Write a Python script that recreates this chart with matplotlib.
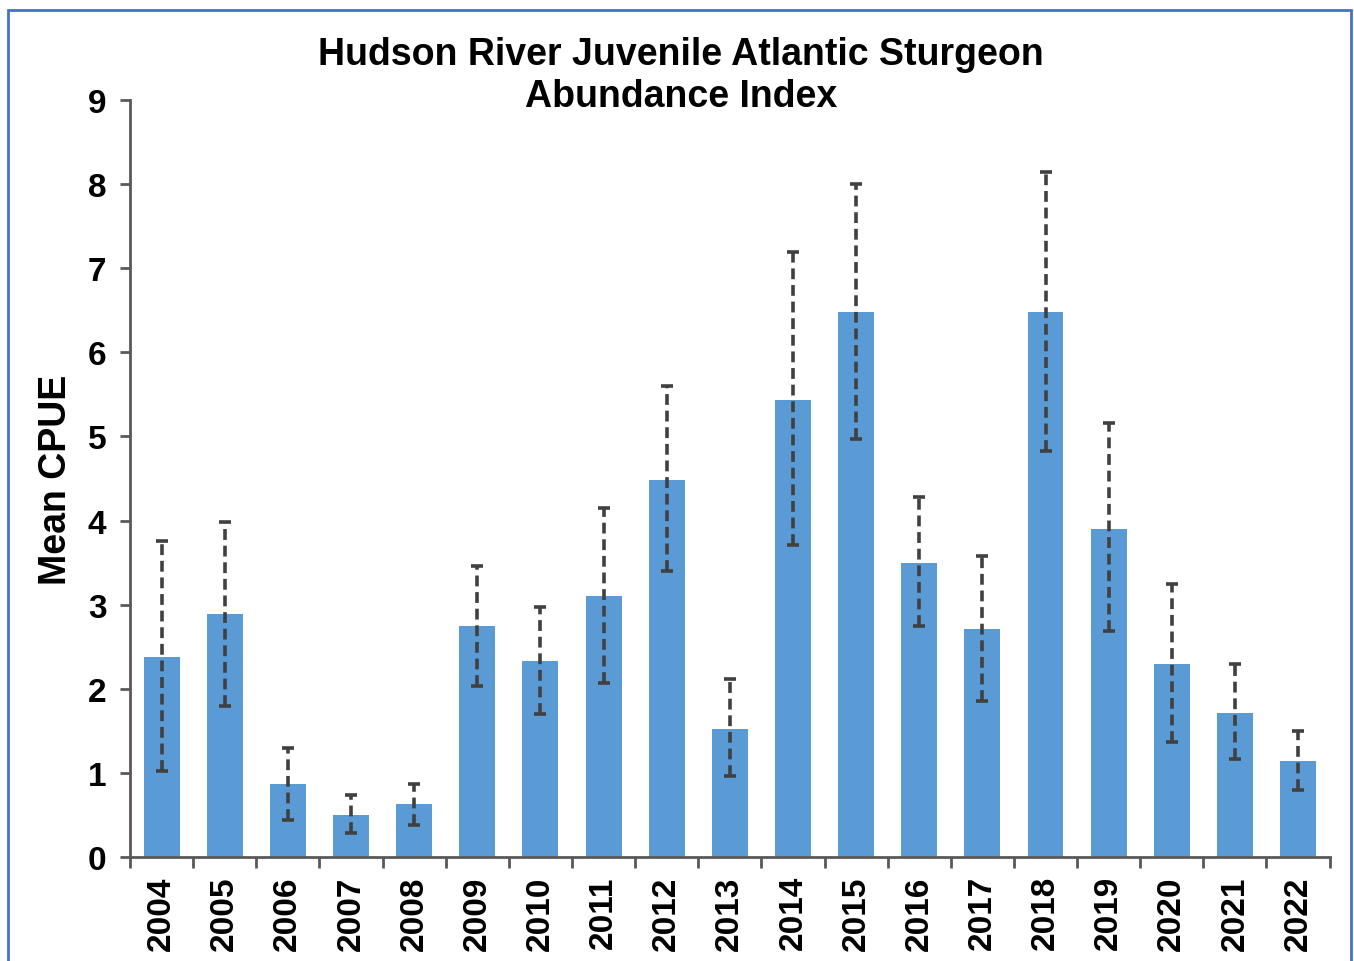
import matplotlib.pyplot as plt
from matplotlib.patches import Rectangle
import numpy as np

# Juvenile Atlantic sturgeon index, Hudson River
years = ["2004", "2005", "2006", "2007", "2008", "2009", "2010", "2011", "2012", "2013",
         "2014", "2015", "2016", "2017", "2018", "2019", "2020", "2021", "2022"]
mean_cpue = [2.38, 2.89, 0.87, 0.50, 0.63, 2.75, 2.33, 3.10, 4.48, 1.52,
             5.43, 6.48, 3.50, 2.71, 6.48, 3.90, 2.30, 1.71, 1.14]
upper = [3.76, 3.98, 1.30, 0.74, 0.87, 3.46, 2.97, 4.15, 5.60, 2.12,
         7.19, 8.00, 4.28, 3.58, 8.15, 5.16, 3.25, 2.29, 1.50]
lower = [1.02, 1.80, 0.44, 0.29, 0.38, 2.03, 1.70, 2.07, 3.40, 0.96,
         3.71, 4.97, 2.75, 1.85, 4.83, 2.69, 1.37, 1.17, 0.80]

plt.rcParams['font.family'] = ['Liberation Sans', 'DejaVu Sans']
plt.rcParams['font.weight'] = 'bold'

fig = plt.figure(figsize=(13.54, 9.62), dpi=100)
ax = fig.add_axes([0.096, 0.108, 0.886, 0.787])

x = np.arange(len(years))
vals = np.array(mean_cpue)
yerr = [vals - np.array(lower), np.array(upper) - vals]

ax.bar(x, vals, width=0.57, color="#5B9BD5", zorder=2)
eb = ax.errorbar(x, vals, yerr=yerr, fmt="none", ecolor="#404040", elinewidth=2.6,
                 capsize=4, capthick=2.6, zorder=3)
for lc in eb[2]:
    lc.set_linestyle((0, (3, 1.6)))

ax.set_xlim(-0.5, len(years) - 0.5)
ax.set_ylim(0, 9)
ax.set_yticks(range(0, 10))
ax.set_xticks(x)
ax.set_xticklabels(years, rotation=90, fontsize=24, fontweight='bold')
ax.set_xticks(np.arange(-0.5, len(years)), minor=True)
ax.tick_params(axis='x', which='major', length=0, pad=13)
ax.tick_params(axis='x', which='minor', length=8, width=2, color="#595959")
ax.tick_params(axis='y', length=7, width=2, color="#595959", labelsize=24, pad=10)
for t in ax.get_yticklabels():
    t.set_fontweight('bold')

for side in ["top", "right"]:
    ax.spines[side].set_visible(False)
for side in ["left", "bottom"]:
    ax.spines[side].set_linewidth(2)
    ax.spines[side].set_color("#595959")

ax.set_ylabel("Mean CPUE", fontsize=27, fontweight='bold', labelpad=10)

fig.text(0.503, 1 - 76 / 962, "Hudson River Juvenile Atlantic Sturgeon\nAbundance Index",
         ha="center", va="center", fontsize=27, fontweight="bold", linespacing=1.2)

# outer frame
fig.patches.append(Rectangle((8 / 1354, -0.02), 1343 / 1354, 1.02 - 11 / 962,
                             transform=fig.transFigure, fill=False,
                             edgecolor="#4472C4", linewidth=2))

fig.savefig("out.png", dpi=100)
